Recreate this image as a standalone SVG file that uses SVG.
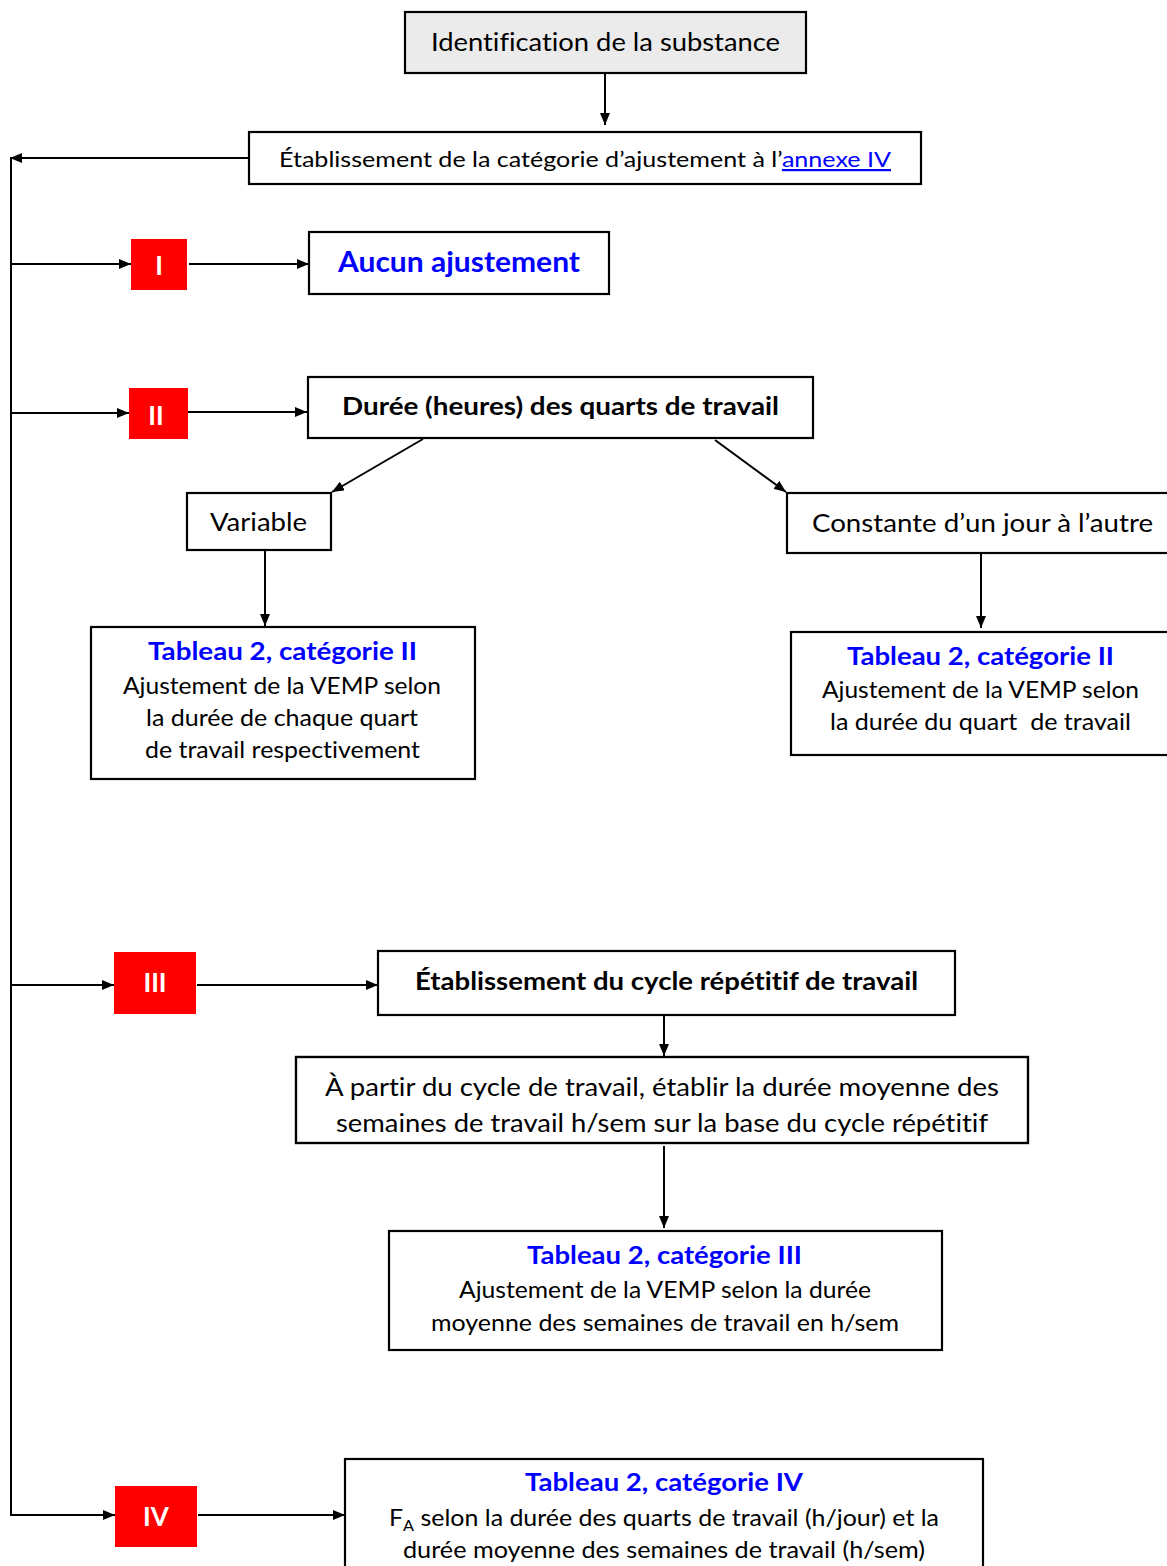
<svg xmlns="http://www.w3.org/2000/svg" width="1167" height="1566" viewBox="0 0 1167 1566">
<defs>
<marker id="ah" markerWidth="12" markerHeight="10" refX="12" refY="5" orient="auto" markerUnits="userSpaceOnUse">
<path d="M0,0 L12,5 L0,10 Z" fill="#000"/>
</marker>
<clipPath id="clipA"><rect x="296" y="1057" width="732" height="80"/></clipPath>
</defs>
<style>
.box{fill:#fff;stroke:#000;stroke-width:2.2}
.red{fill:#ff0000}
.t{font-family:Lato,"Open Sans","Liberation Sans",sans-serif;fill:#000;text-anchor:middle;font-variant-ligatures:none}
.b{font-weight:bold}
.blue{fill:#0000ff}
.num{font-family:Lato,"Open Sans","Liberation Sans",sans-serif;fill:#fff;font-weight:bold;font-size:26px;text-anchor:middle}
.c{stroke:#000;stroke-width:2;fill:none}
.ca{stroke:#000;stroke-width:2;fill:none;marker-end:url(#ah)}
</style>
<rect width="1167" height="1566" fill="#fff"/>
<g id="connectors">
<line class="ca" x1="605" y1="73" x2="605" y2="125"/>
<line class="ca" x1="249" y1="158" x2="10" y2="158"/>
<line class="c" x1="11" y1="157" x2="11" y2="1516"/>
<line class="ca" x1="11" y1="264" x2="131" y2="264"/>
<line class="ca" x1="189" y1="264" x2="309" y2="264"/>
<line class="ca" x1="11" y1="413" x2="129" y2="413"/>
<line class="ca" x1="188" y1="412" x2="307" y2="412"/>
<line class="ca" x1="423" y1="439" x2="332" y2="492"/>
<line class="ca" x1="715" y1="440" x2="786" y2="492"/>
<line class="ca" x1="265" y1="551" x2="265" y2="626"/>
<line class="ca" x1="981" y1="554" x2="981" y2="628"/>
<line class="ca" x1="11" y1="985" x2="114" y2="985"/>
<line class="ca" x1="197" y1="985" x2="378" y2="985"/>
<line class="ca" x1="664" y1="1016" x2="664" y2="1056"/>
<line class="ca" x1="664" y1="1146" x2="664" y2="1228"/>
<line class="ca" x1="11" y1="1515" x2="115" y2="1515"/>
<line class="ca" x1="198" y1="1515" x2="345" y2="1515"/>
</g>
<g id="n-identification">
<rect x="405" y="12" width="401" height="61" fill="#ebebeb" stroke="#000" stroke-width="2.2"/>
<text class="t" x="605.5" y="51" font-size="25" textLength="349" lengthAdjust="spacingAndGlyphs">Identification de la substance</text>
</g>
<g id="n-etablissement">
<rect class="box" x="249" y="132" width="672" height="52"/>
<text class="t" x="585" y="167" font-size="22" textLength="612" lengthAdjust="spacingAndGlyphs">Établissement de la catégorie d’ajustement à l’<tspan fill="#0000ff" text-decoration="underline">annexe IV</tspan></text>
</g>
<g id="n-I">
<rect class="red" x="131" y="239" width="56" height="51"/>
<text class="num" x="159" y="275">I</text>
</g>
<g id="n-aucun">
<rect class="box" x="309" y="232" width="300" height="62"/>
<text class="t b blue" x="459" y="272" font-size="28" textLength="242" lengthAdjust="spacingAndGlyphs">Aucun ajustement</text>
</g>
<g id="n-II">
<rect class="red" x="129" y="388" width="59" height="51"/>
<text class="num" x="156" y="425">II</text>
</g>
<g id="n-duree">
<rect class="box" x="308" y="377" width="505" height="61"/>
<text class="t b" x="560.5" y="415" font-size="24" textLength="437" lengthAdjust="spacingAndGlyphs">Durée (heures) des quarts de travail</text>
</g>
<g id="n-variable">
<rect class="box" x="187" y="493" width="144" height="57"/>
<text class="t" x="258.5" y="531" font-size="25" textLength="97" lengthAdjust="spacingAndGlyphs">Variable</text>
</g>
<g id="n-tab2-var">
<rect class="box" x="91" y="627" width="384" height="152"/>
<text class="t b blue" x="282.5" y="660" font-size="25" textLength="269" lengthAdjust="spacingAndGlyphs">Tableau 2, catégorie II</text>
<text class="t" x="282" y="694" font-size="23" textLength="318" lengthAdjust="spacingAndGlyphs">Ajustement de la VEMP selon</text>
<text class="t" x="282" y="726" font-size="23" textLength="272" lengthAdjust="spacingAndGlyphs">la durée de chaque quart</text>
<text class="t" x="282.5" y="758" font-size="23" textLength="275" lengthAdjust="spacingAndGlyphs">de travail respectivement</text>
</g>
<g id="n-constante">
<rect class="box" x="787" y="493" width="390" height="60"/>
<text class="t" x="982.5" y="532" font-size="25" textLength="341" lengthAdjust="spacingAndGlyphs">Constante d’un jour à l’autre</text>
</g>
<g id="n-tab2-const">
<rect class="box" x="791" y="632" width="386" height="123"/>
<text class="t b blue" x="980.5" y="665" font-size="25" textLength="267" lengthAdjust="spacingAndGlyphs">Tableau 2, catégorie II</text>
<text class="t" x="980.5" y="698" font-size="23" textLength="317" lengthAdjust="spacingAndGlyphs">Ajustement de la VEMP selon</text>
<text class="t" x="980.5" y="730" font-size="23" textLength="301" lengthAdjust="spacingAndGlyphs" xml:space="preserve">la durée du quart  de travail</text>
</g>
<g id="n-III">
<rect class="red" x="114" y="952" width="82" height="62"/>
<text class="num" x="155" y="992">III</text>
</g>
<g id="n-cycle">
<rect class="box" x="378" y="951" width="577" height="64"/>
<text class="t b" x="666.5" y="990" font-size="25" textLength="503" lengthAdjust="spacingAndGlyphs">Établissement du cycle répétitif de travail</text>
</g>
<g id="n-apartir">
<rect class="box" x="296" y="1057" width="732" height="86"/>
<g clip-path="url(#clipA)">
<text class="t" x="662" y="1096" font-size="25" textLength="674" lengthAdjust="spacingAndGlyphs">À partir du cycle de travail, établir la durée moyenne des</text>
<text class="t" x="662" y="1132" font-size="25" textLength="652" lengthAdjust="spacingAndGlyphs">semaines de travail h/sem sur la base du cycle répétitif</text>
</g>
<rect x="296" y="1057" width="732" height="86" fill="none" stroke="#000" stroke-width="2.2"/>
</g>
<g id="n-tab2-III">
<rect class="box" x="389" y="1231" width="553" height="119"/>
<text class="t b blue" x="664.5" y="1264" font-size="25" textLength="275" lengthAdjust="spacingAndGlyphs">Tableau 2, catégorie III</text>
<text class="t" x="665" y="1298" font-size="23" textLength="412" lengthAdjust="spacingAndGlyphs">Ajustement de la VEMP selon la durée</text>
<text class="t" x="665" y="1331" font-size="23" textLength="468" lengthAdjust="spacingAndGlyphs">moyenne des semaines de travail en h/sem</text>
</g>
<g id="n-IV">
<rect class="red" x="115" y="1486" width="82" height="61"/>
<text class="num" x="156" y="1526">IV</text>
</g>
<g id="n-tab2-IV">
<rect class="box" x="345" y="1459" width="638" height="120"/>
<text class="t b blue" x="664" y="1491" font-size="25" textLength="278" lengthAdjust="spacingAndGlyphs">Tableau 2, catégorie IV</text>
<text class="t" x="664" y="1526" font-size="23" textLength="550" lengthAdjust="spacingAndGlyphs">F<tspan font-size="15" dy="5">A</tspan><tspan dy="-5"> selon la durée des quarts de travail (h/jour) et la</tspan></text>
<text class="t" x="664" y="1558" font-size="23" textLength="522" lengthAdjust="spacingAndGlyphs">durée moyenne des semaines de travail (h/sem)</text>
</g>
</svg>
